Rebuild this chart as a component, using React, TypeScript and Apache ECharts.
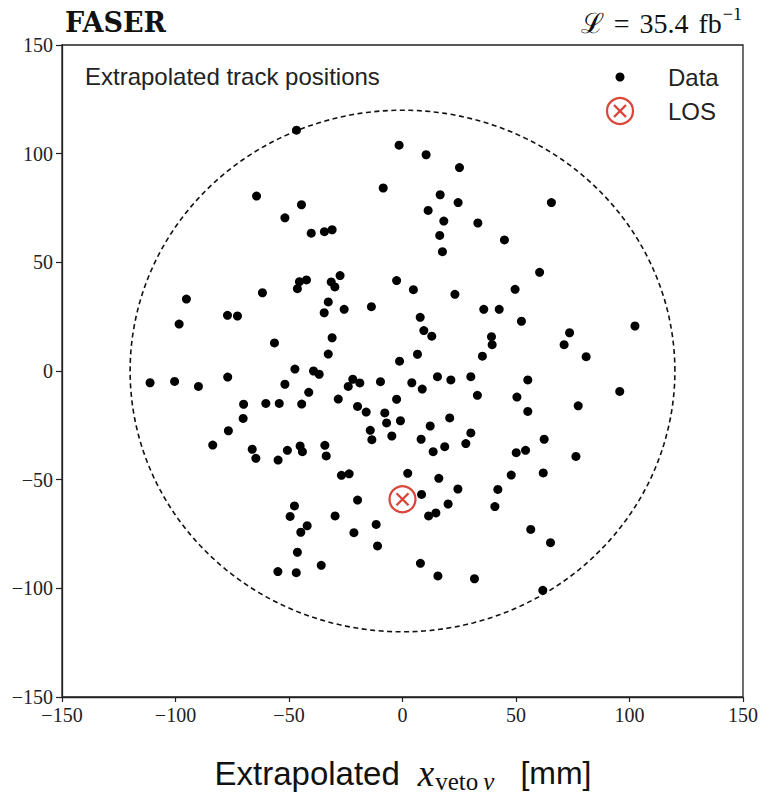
import React, { useEffect, useRef } from "react";
import * as echarts from "echarts";

// Track positions [x (mm), y (mm)]
const trackPoints: number[][] = [
  [-46.7, 110.8], [-1.5, 103.9], [-8.5, 84.2], [-64.3, 80.5], [-44.5, 76.5], [-51.8, 70.5],
  [-40.2, 63.4], [-34.4, 64.1], [-31.0, 65.0], [-27.5, 43.9], [-31.4, 41.0], [-29.8, 38.7],
  [-42.3, 41.9], [-45.4, 41.1], [-46.3, 37.9], [-2.6, 41.6], [-61.7, 36.0], [-95.2, 33.1],
  [-98.4, 21.6], [-77.1, 25.6], [-72.7, 25.3], [-32.7, 31.8], [-34.5, 26.8], [-25.7, 28.4],
  [-13.7, 29.6], [-56.4, 12.9], [-31.0, 15.3], [-32.7, 7.8], [-1.3, 4.5],
  [10.4, 99.5], [25.1, 93.6], [16.6, 81.1], [24.5, 77.5], [11.3, 73.9], [18.2, 69.0],
  [33.2, 68.1], [65.6, 77.5], [16.4, 62.4], [44.9, 60.3], [17.6, 54.9], [60.4, 45.4],
  [4.8, 37.4], [23.1, 35.3], [49.6, 37.6], [35.8, 28.4], [42.6, 28.4], [7.8, 24.7],
  [52.4, 22.9], [102.4, 20.7], [9.4, 18.6], [12.9, 16.0], [39.2, 15.8], [39.5, 12.1],
  [73.6, 17.6], [71.2, 12.1], [6.6, 7.7], [35.2, 6.8], [80.9, 6.6],
  [-47.4, 0.9], [-39.2, 0.0], [-36.7, -1.5], [-111.2, -5.4], [-100.4, -4.8], [-89.9, -7.1],
  [-77.0, -2.8], [-51.8, -6.1], [-41.3, -9.8], [-21.9, -3.8], [-23.9, -7.1], [-18.8, -5.5],
  [-9.7, -4.9], [-70.0, -15.3], [-60.2, -14.9], [-54.3, -14.9], [-44.4, -15.2], [-28.3, -12.9],
  [-19.8, -16.3], [-16.0, -18.9], [-7.8, -19.3], [-7.0, -23.9], [-0.9, -22.9], [-2.6, -13.0],
  [-70.2, -21.8], [-76.7, -27.5], [-83.6, -34.1], [-66.2, -36.0], [-64.6, -40.2], [-54.8, -41.0],
  [-50.7, -36.5], [-45.1, -34.5], [-44.1, -37.1], [-34.2, -34.2], [-33.6, -39.1], [-14.2, -27.3],
  [-13.5, -31.6], [-4.7, -29.9], [-26.9, -48.0], [-23.5, -47.3], [-19.8, -59.4], [-47.6, -62.1],
  [-49.5, -66.9], [-42.0, -71.2], [-44.8, -74.2], [-29.7, -66.7], [-21.4, -74.4], [-11.6, -70.6],
  [-11.0, -80.5], [-46.3, -83.4], [-54.9, -92.3], [-46.8, -92.8], [-35.8, -89.4],
  [4.1, -5.4], [8.7, -8.3], [15.4, -2.6], [21.3, -4.1], [30.1, -2.6], [33.0, -11.2],
  [55.2, -4.1], [50.4, -12.0], [55.2, -18.6], [77.4, -16.0], [95.7, -9.4], [12.2, -25.3],
  [20.8, -21.6], [8.2, -31.4], [13.5, -37.1], [18.6, -34.8], [30.1, -28.5], [27.9, -33.4],
  [50.1, -37.6], [54.2, -36.5], [62.4, -31.4], [76.4, -39.3], [2.3, -47.1], [16.0, -49.4],
  [47.9, -47.9], [62.0, -46.9], [24.4, -54.3], [42.0, -54.5], [8.4, -56.8], [40.7, -62.4],
  [20.1, -61.2], [14.7, -65.3], [11.5, -66.7], [56.5, -72.9], [65.2, -79.0], [7.9, -88.5],
  [15.6, -94.3], [31.7, -95.6], [61.8, -100.9],
];

// Line-of-sight position [x, y]
const losPoint: number[][] = [[0, -59]];

// Veto fiducial circle [cx, cy, radius]
const vetoCircle: number[][] = [[0, 0, 120]];

const axisMin = -150;
const axisMax = 150;
const axisInterval = 50;

const fmt = (v: number) => (v < 0 ? "\u2212" + Math.abs(v) : String(v));

export default function App() {
  const ref = useRef<HTMLDivElement>(null);
  useEffect(() => {
    if (!ref.current) return;
    const chart = echarts.init(ref.current, undefined, { renderer: "svg" });
    const red = "#d9473a";
    const serif = "'Liberation Serif', 'DejaVu Serif', serif";
    const sans = "'Liberation Sans', Arial, sans-serif";
    chart.setOption({
      animation: false,
      backgroundColor: "#ffffff",
      grid: {
        left: 62,
        right: 26,
        top: 45,
        bottom: 103,
        show: true,
        borderColor: "#222",
        borderWidth: 1.3,
        backgroundColor: "transparent",
      },
      xAxis: {
        type: "value",
        min: axisMin,
        max: axisMax,
        interval: axisInterval,
        splitLine: { show: false },
        axisLine: { show: true, onZero: false, lineStyle: { color: "#222", width: 1.3 } },
        axisTick: { show: true, inside: false, length: 5, lineStyle: { color: "#222", width: 1.2 } },
        axisLabel: {
          formatter: fmt,
          fontFamily: serif,
          fontSize: 20,
          color: "#222",
          margin: 8,
        },
      },
      yAxis: {
        type: "value",
        min: axisMin,
        max: axisMax,
        interval: axisInterval,
        splitLine: { show: false },
        axisLine: { show: true, onZero: false, lineStyle: { color: "#222", width: 1.3 } },
        axisTick: { show: true, inside: false, length: 6, lineStyle: { color: "#222", width: 1.2 } },
        axisLabel: {
          formatter: fmt,
          fontFamily: serif,
          fontSize: 20,
          color: "#222",
          margin: 9,
        },
      },
      series: [
        {
          type: "custom",
          name: "veto",
          data: vetoCircle,
          silent: true,
          z: 1,
          renderItem: (params: any, api: any) => {
            const cx = api.value(0);
            const cy = api.value(1);
            const r = api.value(2);
            const pts: number[][] = [];
            const n = 240;
            for (let i = 0; i < n; i++) {
              const t = (2 * Math.PI * i) / n;
              pts.push(api.coord([cx + r * Math.cos(t), cy + r * Math.sin(t)]));
            }
            return {
              type: "polygon",
              shape: { points: pts },
              style: { fill: "none", stroke: "#111", lineWidth: 1.6, lineDash: [5, 3.5] },
            };
          },
        },
        {
          type: "scatter",
          name: "Data",
          data: trackPoints,
          symbol: "circle",
          symbolSize: 9,
          itemStyle: { color: "#000", opacity: 1 },
          z: 3,
        },
        {
          type: "scatter",
          name: "LOS",
          data: losPoint,
          symbol: "circle",
          symbolSize: 26,
          itemStyle: { color: "rgba(255,255,255,0)", borderColor: red, borderWidth: 2.2, opacity: 1 },
          z: 4,
        },
        {
          type: "scatter",
          name: "LOS-x",
          data: losPoint,
          symbol: "path://M0,0 L10,10 M0,10 L10,0",
          symbolSize: 12,
          itemStyle: { color: "rgba(255,255,255,0)", borderColor: red, borderWidth: 2.4, opacity: 1 },
          z: 5,
        },
      ],
      graphic: [
        {
          type: "text",
          left: 65,
          top: 9,
          style: {
            text: "FASER",
            fontFamily: "'DejaVu Serif', serif",
            fontWeight: "bold",
            fontSize: 27,
            fill: "#111",
          },
        },
        {
          type: "text",
          right: 27,
          top: 5,
          style: {
            text: "{l|\u2112}{e|=}{n|35.4}{f|fb}{s|\u22121}",
            rich: {
              l: { fontFamily: serif, fontSize: 28, fill: "#111", verticalAlign: "bottom" },
              e: { fontFamily: serif, fontSize: 28, fill: "#111", verticalAlign: "bottom", padding: [0, 10, 0, 10] },
              n: { fontFamily: serif, fontSize: 28, fill: "#111", verticalAlign: "bottom", padding: [0, 10, 0, 0] },
              f: { fontFamily: serif, fontSize: 28, fill: "#111", verticalAlign: "bottom" },
              s: { fontFamily: serif, fontSize: 18, fill: "#111", verticalAlign: "top", padding: [0, 0, 14, 1] },
            },
          },
        },
        {
          type: "text",
          left: 85,
          top: 64,
          style: {
            text: "Extrapolated track positions",
            fontFamily: sans,
            fontSize: 24,
            fill: "#222",
          },
        },
        // legend
        {
          type: "circle",
          shape: { cx: 620, cy: 77, r: 4.5 },
          style: { fill: "#000" },
        },
        {
          type: "text",
          x: 668,
          y: 77,
          style: {
            text: "Data",
            fontFamily: sans,
            fontSize: 24,
            fill: "#222",
            verticalAlign: "middle",
          },
        },
        {
          type: "circle",
          shape: { cx: 620, cy: 111, r: 13 },
          style: { fill: "none", stroke: red, lineWidth: 2.2 },
        },
        {
          type: "line",
          shape: { x1: 614, y1: 105, x2: 626, y2: 117 },
          style: { stroke: red, lineWidth: 2.4 },
        },
        {
          type: "line",
          shape: { x1: 614, y1: 117, x2: 626, y2: 105 },
          style: { stroke: red, lineWidth: 2.4 },
        },
        {
          type: "text",
          x: 668,
          y: 111,
          style: {
            text: "LOS",
            fontFamily: sans,
            fontSize: 24,
            fill: "#222",
            verticalAlign: "middle",
          },
        },
        // x-axis title
        {
          type: "text",
          x: 403,
          y: 773,
          style: {
            text: "{a|Extrapolated}{x|x}{sub|veto}{nu|\u03bd}{b|[mm]}",
            align: "center",
            verticalAlign: "middle",
            rich: {
              a: { fontFamily: sans, fontSize: 33, fill: "#111", padding: [0, 18, 0, 0] },
              x: { fontFamily: serif, fontStyle: "italic", fontSize: 37, fill: "#111" },
              sub: { fontFamily: serif, fontSize: 25, fill: "#111", padding: [16, 0, 0, 1] },
              nu: { fontFamily: serif, fontStyle: "italic", fontSize: 25, fill: "#111", padding: [16, 0, 0, 5] },
              b: { fontFamily: sans, fontSize: 32, fill: "#111", padding: [0, 0, 0, 26] },
            },
          },
        },
      ],
    });
    return () => chart.dispose();
  }, []);
  return <div ref={ref} style={{ width: 769, height: 800, marginLeft: -8, marginTop: -8 }} />;
}
